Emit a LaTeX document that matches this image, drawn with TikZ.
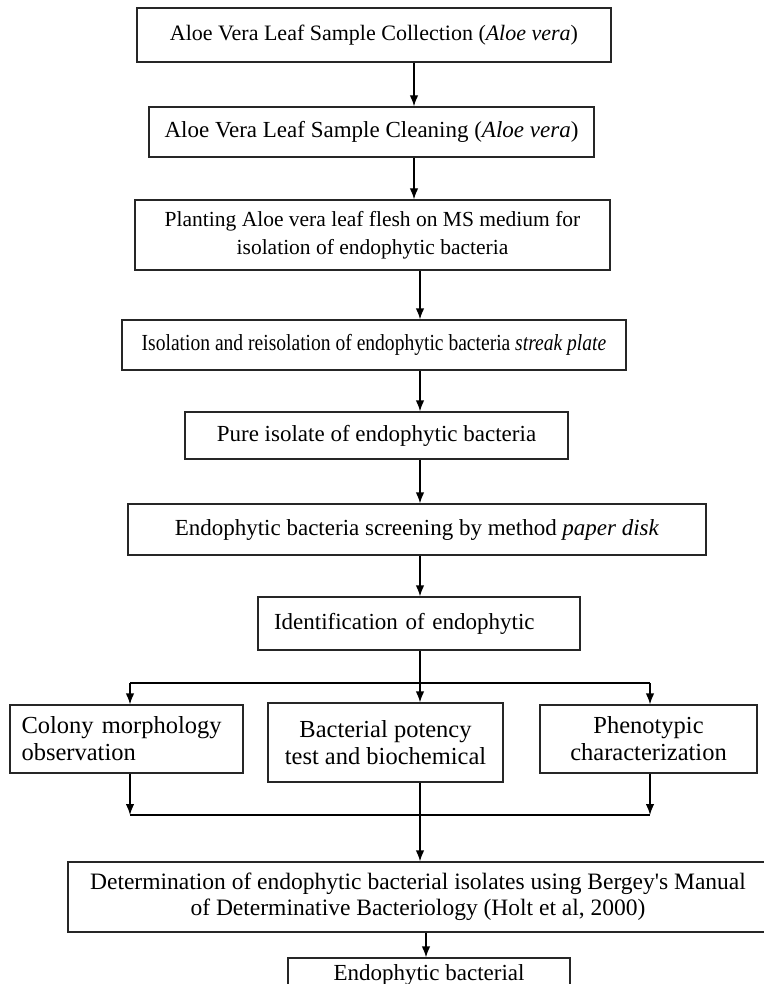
\documentclass[tikz,border=0pt]{standalone}
\usepackage{fontspec}
\setmainfont{Liberation Serif}
\newfontfamily\narrowserif[FakeStretch=0.85]{Liberation Serif}
\usetikzlibrary{arrows.meta, positioning}

\begin{document}
\begin{tikzpicture}[x=1pt,y=-1pt,>={Latex[length=11pt,width=8.5pt]},line width=1.3pt]
  \tikzstyle{every node}=[font=\fontsize{23}{28}\selectfont]
  \tikzstyle{stage}=[draw=black!85,rectangle,align=center,inner sep=0pt]
  \tikzstyle{branch}=[stage,font=\fontsize{24.5}{27}\selectfont]
  \useasboundingbox (0,0) rectangle (763,984);

  \coordinate (upper)    at (414,0);
  \coordinate (spine)    at (420,0);
  \coordinate (lower)    at (426,0);
  \coordinate (leftcol)  at (130,0);
  \coordinate (rightcol) at (650,0);
  \coordinate (split)    at (420,683);
  \coordinate (join)     at (420,815);

  \node[stage,minimum width=474,minimum height=54,font=\fontsize{22}{28}\selectfont] (collect) at (374,35) {Aloe Vera Leaf Sample Collection (\textit{Aloe vera})};
  \node[stage,minimum width=445,minimum height=50] (clean)   at (371.5,132) {Aloe Vera Leaf Sample Cleaning (\textit{Aloe vera})};
  \node[stage,minimum width=475,minimum height=70,font=\fontsize{21.5}{28}\selectfont] (plant) at (372.5,235) {Planting Aloe vera leaf flesh on MS medium for\\isolation of endophytic bacteria};
  \node[stage,minimum width=504,minimum height=50,font=\narrowserif\fontsize{23}{28}\selectfont] (isolate) at (374,345) {Isolation and reisolation of endophytic bacteria \textit{streak plate}};
  \node[stage,minimum width=383,minimum height=47] (pure)    at (376.5,435.5) {Pure isolate of endophytic bacteria};
  \node[stage,minimum width=578,minimum height=51] (screen)  at (417,529.5) {Endophytic bacteria screening by method \textit{paper disk}};
  \node[stage,minimum width=322,minimum height=53,text width=290,align=left] (ident) at (419,623.5) {Identification of endophytic};

  \node[branch,minimum width=233,minimum height=68,text width=210,align=left] (colony) at (126.5,739) {Colony morphology\\observation};
  \node[branch,minimum width=235,minimum height=79] (potency) at (385.5,742.5) {Bacterial potency\\test and biochemical};
  \node[branch,minimum width=217,minimum height=68] (pheno)   at (648.5,739) {Phenotypic\\characterization};

  \node[stage,minimum width=700,minimum height=70,font=\fontsize{23.5}{26}\selectfont] (determ) at (418,897) {Determination of endophytic bacterial isolates using Bergey\textquotesingle s Manual\\of Determinative Bacteriology (Holt et al, 2000)};
  \node[stage,minimum width=282,minimum height=34] (result) at (429,975) {Endophytic bacterial};

  \path[->]
  (collect.south -| upper) edge (clean.north -| upper)
  (clean.south -| upper)   edge (plant.north -| upper)
  (plant.south -| spine)   edge (isolate.north -| spine)
  (isolate.south -| spine) edge (pure.north -| spine)
  (pure.south -| spine)    edge (screen.north -| spine)
  (screen.south -| spine)  edge (ident.north -| spine)
  (split -| leftcol)       edge (colony.north -| leftcol)
  (split)                  edge (potency.north -| spine)
  (split -| rightcol)      edge (pheno.north -| rightcol)
  (colony.south -| leftcol)  edge (join -| leftcol)
  (pheno.south -| rightcol)  edge (join -| rightcol)
  (potency.south -| spine) edge (determ.north -| spine)
  (determ.south -| lower)  edge (result.north -| lower)
  ;

  \draw (ident.south -| spine) -- (split);
  \draw (split -| leftcol) -- (split -| rightcol);
  \draw (join -| leftcol) -- (join -| rightcol);
\end{tikzpicture}
\end{document}
